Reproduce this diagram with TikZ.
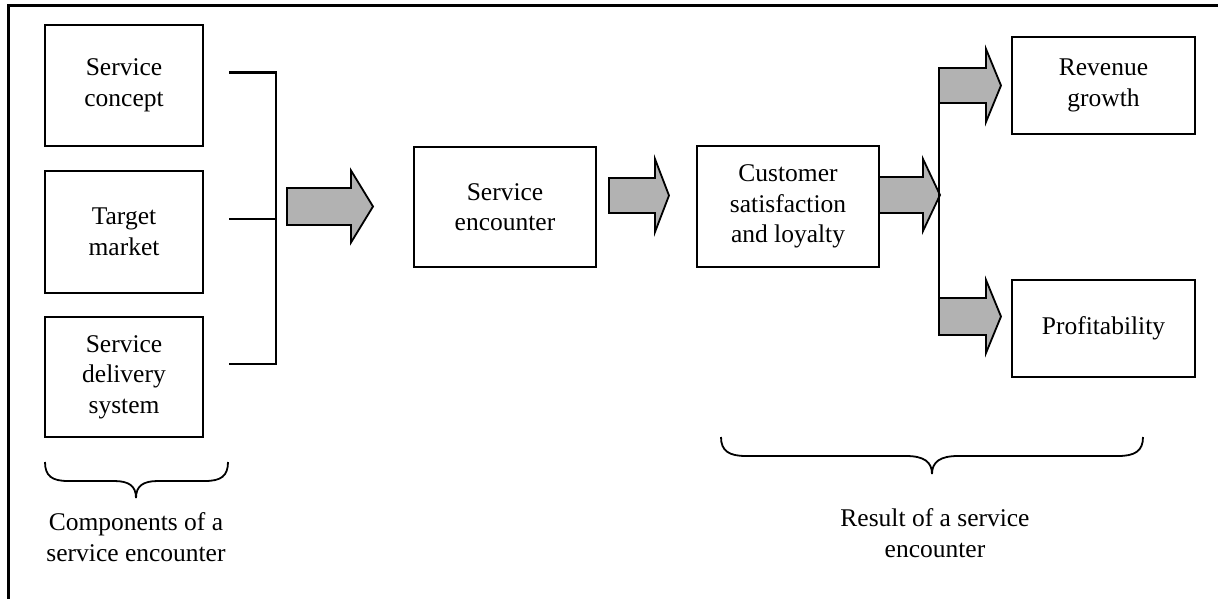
\documentclass[tikz,border=0pt]{standalone}
\usepackage{fontspec}
\setmainfont{Liberation Serif}
\usetikzlibrary{calc}

% solid grey block arrow: #1 left x, #2 head base x, #3 tip x, #4 centre y, #5 half body height, #6 half head height
\newcommand{\blockarrow}[6]{%
  \draw[blockarr] (#1,#4-#5) -- (#2,#4-#5) -- (#2,#4-#6) -- (#3,#4)
    -- (#2,#4+#6) -- (#2,#4+#5) -- (#1,#4+#5) -- cycle;}

\begin{document}
\begin{tikzpicture}[x=1pt,y=-1pt,
  box/.style={draw=black, line width=2.4pt, fill=white, align=center,
    inner sep=0pt, font=\fontsize{25.5}{30.5}\selectfont},
  lbl/.style={align=center, inner sep=0pt, font=\fontsize{25.5}{30.5}\selectfont},
  link/.style={draw=black, line width=2.4pt},
  blockarr/.style={draw=black, line width=1.8pt, fill=black!30, line join=miter},
  curly/.style={draw=black, line width=1.8pt}]
\useasboundingbox (0,0) rectangle (1226,599);

% frame edges
\draw[line width=3pt] (8,599) -- (8,5.5) -- (1218,5.5);

% components
\node[box, minimum width=158pt, minimum height=121pt] (sc) at (124,85.5) {Service\\concept};
\node[box, minimum width=158pt, minimum height=122pt] (tm) at (124,232) {Target\\market};
\node[box, minimum width=158pt, minimum height=120pt] (sd) at (124,377) {Service\\delivery\\system};

% bracket joining the components
\coordinate (jn) at (276,219);
\draw[link] ([xshift=25pt,yshift=13pt]sc.east) -| (jn) |- ([xshift=25pt,yshift=13pt]sd.east);
\draw[link] ([xshift=25pt,yshift=13pt]tm.east) -- (jn);

% central chain
\node[box, minimum width=182pt, minimum height=120pt] (se) at (505,207) {Service\\encounter};
\node[box, minimum width=182pt, minimum height=121pt] (cs) at (788,206.5) {Customer\\satisfaction\\and loyalty};

% results
\node[box, minimum width=183pt, minimum height=97pt] (rg) at (1103.5,85.5) {Revenue\\growth};
\node[box, minimum width=183pt, minimum height=97pt] (pf) at (1103.5,328.5) {Profitability};

% block arrows
\blockarrow{287}{351}{373}{206.5}{18.5}{36}
\blockarrow{609}{655}{669}{195.5}{17.5}{36.5}
\blockarrow{879}{923}{940}{195}{18}{36}
\blockarrow{939}{986}{1001}{85.5}{17.5}{36.5}
\blockarrow{939}{986}{1001}{316.5}{18.5}{36.5}
\draw[line width=1.8pt] (939,68) -- (939,335);

% braces
\draw[curly] (45,462) .. controls (45,476) and (52,481) .. (68,481) -- (114,481)
  .. controls (129,481) and (136,486) .. (136,498)
  .. controls (136,486) and (143,481) .. (158,481) -- (205,481)
  .. controls (221,481) and (228,476) .. (228,462);
\draw[curly] (721,437) .. controls (721,451) and (729,456) .. (746,456) -- (906,456)
  .. controls (924,456) and (932,462) .. (932,474)
  .. controls (932,462) and (940,456) .. (958,456) -- (1118,456)
  .. controls (1135,456) and (1143,451) .. (1143,437);

\node[lbl] (lc) at (136,537) {Components of a\\service encounter};
\node[lbl] (lr) at (935,533) {Result of a service\\encounter};
\end{tikzpicture}
\end{document}
